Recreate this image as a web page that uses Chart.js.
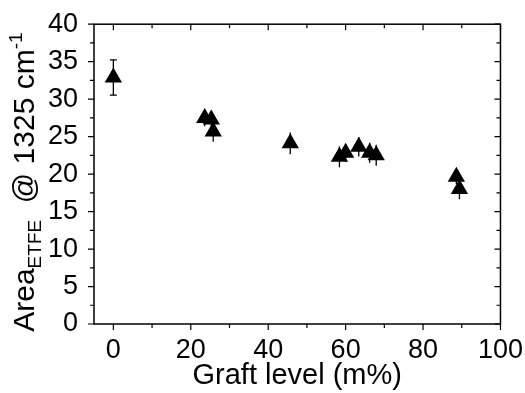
<!DOCTYPE html>
<html>
<head>
<meta charset="utf-8">
<script src="https://cdn.jsdelivr.net/npm/chart.js@4"></script>
<style>
  html, body { margin: 0; padding: 0; background: #fff; }
  #wrap { width: 525px; height: 393px; }
</style>
</head>
<body>
<div id="wrap"><canvas id="areaChart" width="525" height="393"></canvas></div>
<script>
// graft level (m%) and area of the ETFE band at 1325 cm-1
const graftLevel = [0, 23.6, 25.3, 25.8, 45.7, 58.4, 60.0, 63.4, 66.2, 67.9, 88.6, 89.4];
const areaEtfe   = [32.9, 27.5, 27.3, 25.7, 24.1, 22.3, 22.85, 23.65, 22.85, 22.5, 19.65, 18.0];
const areaError  = [2.35, 1.1, 1.1, 1.4, 1.45, 1.4, 1.2, 1.3, 1.35, 1.4, 1.0, 1.35];

const xTicks = [0, 20, 40, 60, 80, 100];
const xMinor = [10, 30, 50, 70, 90];
const yTicks = [0, 5, 10, 15, 20, 25, 30, 35, 40];
const yMinor = [2.5, 7.5, 12.5, 17.5, 22.5, 27.5, 32.5, 37.5];

const FONT = "'Liberation Sans', Arial, sans-serif";

// frame with mirrored ticks, error bars and the y title with sub/superscript
const framePlugin = {
  id: "frame",
  beforeDatasetsDraw(chart) {
    const ctx = chart.ctx;
    const xs = chart.scales.x, ys = chart.scales.y;
    ctx.save();
    ctx.strokeStyle = "#000";
    ctx.lineWidth = 1.3;
    graftLevel.forEach((gx, i) => {
      const px = xs.getPixelForValue(gx);
      const top = ys.getPixelForValue(areaEtfe[i] + areaError[i]);
      const bot = ys.getPixelForValue(areaEtfe[i] - areaError[i]);
      ctx.beginPath();
      ctx.moveTo(px, top);
      ctx.lineTo(px, bot);
      if (i === 0) {
        ctx.moveTo(px - 3.5, top); ctx.lineTo(px + 3.5, top);
        ctx.moveTo(px - 3.5, bot); ctx.lineTo(px + 3.5, bot);
      }
      ctx.stroke();
    });
    ctx.restore();
  },
  afterDraw(chart) {
    const ctx = chart.ctx;
    const a = chart.chartArea;
    const xs = chart.scales.x, ys = chart.scales.y;
    ctx.save();
    ctx.strokeStyle = "#000";
    ctx.lineWidth = 1.5;
    ctx.strokeRect(a.left, a.top, a.right - a.left, a.bottom - a.top);

    ctx.lineWidth = 1.2;
    ctx.beginPath();
    const xMark = (vals, len) => vals.forEach(v => {
      const px = xs.getPixelForValue(v);
      ctx.moveTo(px, a.bottom); ctx.lineTo(px, a.bottom + len);
      ctx.moveTo(px, a.top); ctx.lineTo(px, a.top + len);
    });
    const yMark = (vals, len) => vals.forEach(v => {
      const py = ys.getPixelForValue(v);
      ctx.moveTo(a.left, py); ctx.lineTo(a.left - len, py);
      ctx.moveTo(a.right, py); ctx.lineTo(a.right - len, py);
    });
    xMark(xTicks, 6); xMark(xMinor, 4);
    yMark(yTicks, 6); yMark(yMinor, 4);
    ctx.stroke();

    // y title: Area_ETFE @ 1325 cm^-1
    const big = "30px " + FONT, small = "19px " + FONT;
    const parts = [
      { t: "Area", f: big, dy: 0 },
      { t: "ETFE", f: small, dy: 7 },
      { t: "  @ 1325 cm", f: big, dy: 0 },
      { t: "-1", f: small, dy: -12 }
    ];
    let total = 0;
    parts.forEach(p => { ctx.font = p.f; p.w = ctx.measureText(p.t).width; total += p.w; });
    const cy = (a.top + a.bottom) / 2 + 8;
    ctx.translate(34, cy);
    ctx.rotate(-Math.PI / 2);
    ctx.fillStyle = "#000";
    ctx.textBaseline = "alphabetic";
    let cx = -total / 2;
    parts.forEach(p => {
      ctx.font = p.f;
      ctx.fillText(p.t, cx, p.dy);
      cx += p.w;
    });
    ctx.restore();
  }
};

new Chart(document.getElementById("areaChart"), {
  type: "scatter",
  data: {
    datasets: [{
      label: "Area ETFE",
      data: graftLevel.map((gx, i) => ({ x: gx, y: areaEtfe[i] })),
      pointStyle: "triangle",
      pointRadius: 10,
      pointHoverRadius: 10,
      backgroundColor: "#000",
      borderColor: "#000",
      borderWidth: 0
    }]
  },
  options: {
    responsive: false,
    animation: false,
    layout: { padding: { top: 24, right: 23, left: 0, bottom: 0 } },
    plugins: {
      legend: { display: false },
      tooltip: { enabled: false }
    },
    scales: {
      x: {
        type: "linear",
        min: -5,
        max: 100,
        afterBuildTicks: s => { s.ticks = xTicks.map(v => ({ value: v })); },
        afterFit: s => { s.height = 69; },
        grid: { display: false },
        border: { display: false },
        ticks: { color: "#000", padding: 2, font: { family: FONT, size: 27 } },
        title: {
          display: true,
          text: "Graft level (m%)",
          color: "#000",
          padding: { top: 0, bottom: 0 },
          font: { family: FONT, size: 29 }
        }
      },
      y: {
        type: "linear",
        min: 0,
        max: 40,
        afterBuildTicks: s => { s.ticks = yTicks.map(v => ({ value: v })); },
        afterFit: s => { s.width = 94; },
        grid: { display: false },
        border: { display: false },
        ticks: { color: "#000", padding: 8, font: { family: FONT, size: 27 } }
      }
    }
  },
  plugins: [framePlugin]
});
</script>
</body>
</html>
